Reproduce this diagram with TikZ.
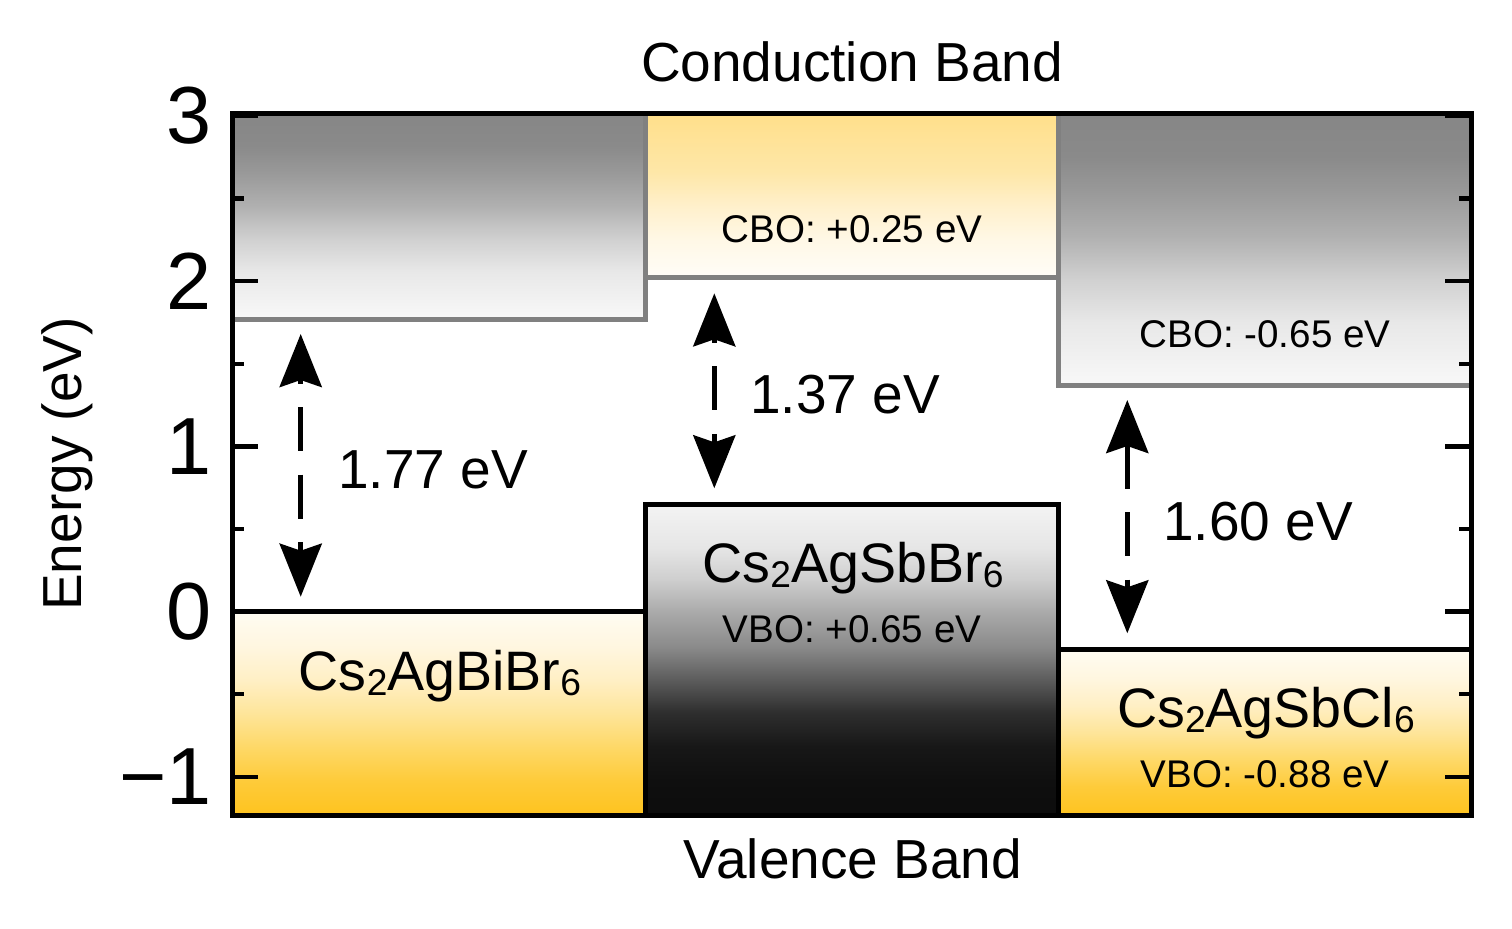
\documentclass[tikz,border=0pt]{standalone}
\usepackage{fontspec}
\setmainfont{Liberation Sans}
\usetikzlibrary{arrows.meta}

\definecolor{cbline}{HTML}{808080}
% gray conduction-band gradient
\definecolor{ga1}{HTML}{868686}\definecolor{ga2}{HTML}{8A8A8A}\definecolor{ga3}{HTML}{999999}
\definecolor{ga4}{HTML}{B0B0B0}\definecolor{ga5}{HTML}{D0D0D0}\definecolor{ga6}{HTML}{E8E8E8}
\definecolor{ga7}{HTML}{F8F8F8}
% yellow conduction-band gradient
\definecolor{ya1}{HTML}{FFDF8A}\definecolor{ya2}{HTML}{FEE7A8}\definecolor{ya3}{HTML}{FFF0CC}
\definecolor{ya4}{HTML}{FFF8E6}\definecolor{ya5}{HTML}{FFFDF8}
% yellow valence-band gradient
\definecolor{yb1}{HTML}{FFFCF2}\definecolor{yb2}{HTML}{FFF6DF}\definecolor{yb3}{HTML}{FFEFC4}
\definecolor{yb4}{HTML}{FEE59A}\definecolor{yb5}{HTML}{FED866}\definecolor{yb6}{HTML}{FECB3A}
\definecolor{yb7}{HTML}{FEC31F}
% dark valence-band gradient
\definecolor{db1}{HTML}{F3F3F3}\definecolor{db2}{HTML}{E6E6E6}\definecolor{db3}{HTML}{CFCFCF}
\definecolor{db4}{HTML}{A9A9A9}\definecolor{db5}{HTML}{8A8A8A}\definecolor{db6}{HTML}{5A5A5A}
\definecolor{db7}{HTML}{2E2E2E}\definecolor{db8}{HTML}{171717}\definecolor{db9}{HTML}{0F0F0F}
\definecolor{db10}{HTML}{0C0C0C}

\pgfdeclareverticalshading{cbgray}{100bp}{color(0bp)=(ga7); color(25bp)=(ga7); color(36.5bp)=(ga6); color(44.5bp)=(ga5); color(52.5bp)=(ga4); color(60.5bp)=(ga3); color(67bp)=(ga2); color(75bp)=(ga1); color(100bp)=(ga1)}
\pgfdeclareverticalshading{cbyellow}{100bp}{color(0bp)=(ya5); color(25bp)=(ya5); color(36.5bp)=(ya4); color(46.5bp)=(ya3); color(57bp)=(ya2); color(75bp)=(ya1); color(100bp)=(ya1)}
\pgfdeclareverticalshading{vbyellow}{100bp}{color(0bp)=(yb7); color(25bp)=(yb7); color(33.5bp)=(yb6); color(41.5bp)=(yb5); color(50bp)=(yb4); color(58bp)=(yb3); color(66bp)=(yb2); color(75bp)=(yb1); color(100bp)=(yb1)}
\pgfdeclareverticalshading{vbdark}{100bp}{color(0bp)=(db10); color(25bp)=(db10); color(30.5bp)=(db9); color(36bp)=(db8); color(41.5bp)=(db7); color(46.5bp)=(db6); color(52bp)=(db5); color(57.5bp)=(db4); color(63bp)=(db3); color(68bp)=(db2); color(75bp)=(db1); color(100bp)=(db1)}

\newcommand\chemsub[1]{\raisebox{-2.5pt}{\fontsize{18.6}{20}\selectfont #1}}

\begin{document}
\begin{tikzpicture}[x=0.5pt,y=-0.5pt,
  cbbox/.style={draw=cbline, line width=2.5pt},
  vbbox/.style={draw=black, line width=2.5pt},
  gaparrow/.style={line width=2.5pt,
    {Stealth[length=26.5pt,width=21pt,inset=3.5pt]}-{Stealth[length=26.5pt,width=21pt,inset=3.5pt]},
    dash pattern=on 22pt off 11.75pt},
  tickline/.style={line width=2.2pt},
  frameline/.style={line width=2.5pt},
  axlbl/.style={font=\fontsize{27.5}{33}\selectfont, inner sep=0pt},
  gaplbl/.style={font=\fontsize{27.5}{33}\selectfont, inner sep=0pt},
  ticklbl/.style={font=\fontsize{40.5}{48}\selectfont, inner sep=0pt, anchor=east},
  cmpd/.style={font=\fontsize{27.8}{34}\selectfont, inner sep=0pt, anchor=base},
  offs/.style={font=\fontsize{19.3}{23}\selectfont, inner sep=0pt, anchor=base}
]
\useasboundingbox (0,0) rectangle (1512,928);

% conduction-band boxes
\shadedraw[shading=cbgray, cbbox] (232,113) rectangle (645.8,319.1);
\shadedraw[shading=cbgray, cbbox] (1058.7,113) rectangle (1471,385.2);
\shadedraw[shading=cbyellow, cbbox] (645.8,113) rectangle (1058.7,277.8);

% valence-band boxes
\shadedraw[shading=vbyellow, vbbox] (232,611.5) rectangle (645.8,815);
\shadedraw[shading=vbyellow, vbbox] (1058.7,649.5) rectangle (1471,815);
\shadedraw[shading=vbdark, vbbox] (645.8,504.1) rectangle (1058.7,815);

% ticks
\foreach \e in {3,2,1,0,-1}{
  \draw[tickline] (232,{611.5-165.2*\e}) -- (258,{611.5-165.2*\e});
  \draw[tickline] (1471,{611.5-165.2*\e}) -- (1445,{611.5-165.2*\e});
}
\foreach \e in {2.5,1.5,0.5,-0.5}{
  \draw[tickline] (232,{611.5-165.2*\e}) -- (244,{611.5-165.2*\e});
  \draw[tickline] (1471,{611.5-165.2*\e}) -- (1459,{611.5-165.2*\e});
}

% frame
\draw[frameline] (232,113) rectangle (1471,815);

% tick labels
\node[ticklbl] (t3) at (212,115.9) {3};
\node[ticklbl] (t2) at (212,281.1) {2};
\node[ticklbl] (t1) at (212,446.3) {1};
\node[ticklbl] (t0) at (212,611.5) {0};
\node[ticklbl] (tm1) at (212,776.7) {−1};

% axis titles
\node[axlbl, anchor=base] (cbt) at (852,81) {Conduction Band};
\node[axlbl, anchor=base] (vbt) at (853,878) {Valence Band};
\node[axlbl, anchor=base, rotate=90] (ylab) at (81,464) {Energy (eV)};

% offsets and compounds
\node[offs] (cbo1) at (852,242) {CBO: +0.25 eV};
\node[offs] (cbo2) at (1265,347) {CBO: -0.65 eV};
\node[cmpd] (c1) at (440,690) {Cs\chemsub{2}AgBiBr\chemsub{6}};
\node[cmpd] (c2) at (853,582) {Cs\chemsub{2}AgSbBr\chemsub{6}};
\node[offs] (vbo1) at (852,642) {VBO: +0.65 eV};
\node[cmpd] (c3) at (1266,727) {Cs\chemsub{2}AgSbCl\chemsub{6}};
\node[offs] (vbo2) at (1265,787) {VBO: -0.88 eV};

% band gaps
\coordinate (a1t) at (300.7,334);
\coordinate (a1b) at (300.7,596.7);
\coordinate (a2t) at (714.3,293.3);
\coordinate (a2b) at (714.3,488.3);
\coordinate (a3t) at (1127.3,400);
\coordinate (a3b) at (1127.3,633.3);
\draw[gaparrow, dash phase=19.5pt] (a1t) -- (a1b);
\draw[gaparrow, dash phase=19.5pt] (a2t) -- (a2b);
\draw[gaparrow, dash phase=0pt] (a3t) -- (a3b);
\node[gaplbl, anchor=base west] (g1) at (338,488) {1.77 eV};
\node[gaplbl, anchor=base west] (g2) at (750,413) {1.37 eV};
\node[gaplbl, anchor=base west] (g3) at (1163,540) {1.60 eV};
\end{tikzpicture}
\end{document}
